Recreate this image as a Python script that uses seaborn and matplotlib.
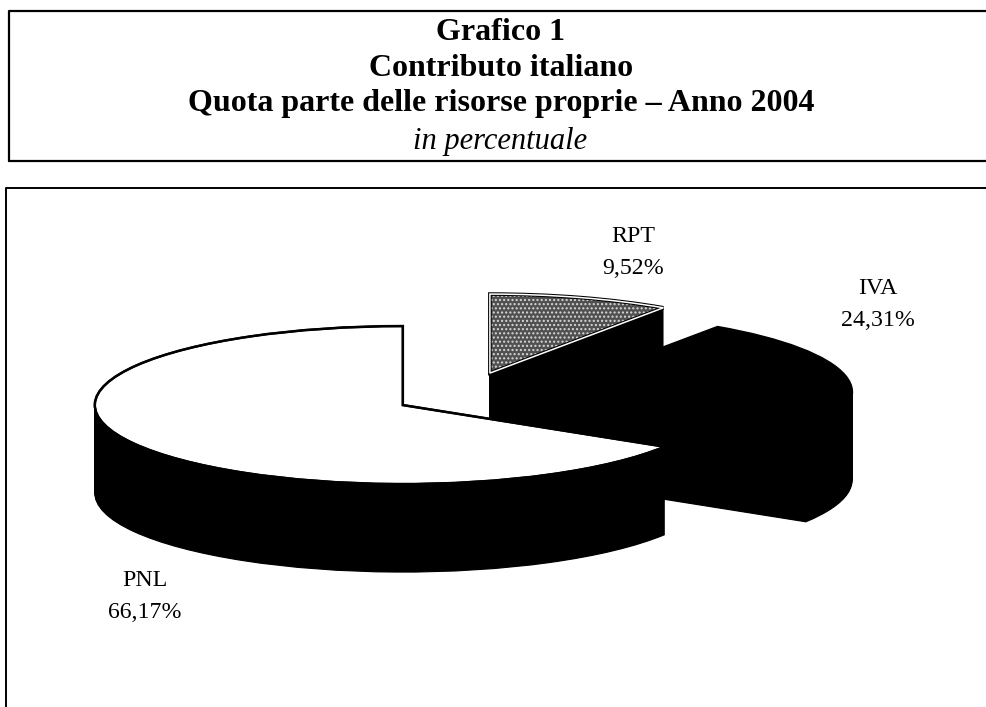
import matplotlib
matplotlib.use("Agg")
import matplotlib.pyplot as plt
from matplotlib.patches import Rectangle
import seaborn as sns

labels = ["PNL", "IVA", "RPT"]
values = [66.17, 24.31, 9.52]
value_labels = ["66,17%", "24,31%", "9,52%"]
title_lines = ["Grafico 1", "Contributo italiano", "Quota parte delle risorse proprie – Anno 2004"]
subtitle = "in percentuale"

sns.set_style("white")
plt.rcParams["font.family"] = ["Liberation Serif", "DejaVu Serif"]
plt.rcParams["text.color"] = "black"
plt.rcParams["hatch.linewidth"] = 1.0

W, H = 987, 707
RX, RY = 308, 79      # pie radius on screen (squashed ellipse)
CX, CY = 461.5, 396.7 # pie centre before exploding
DEPTH = 88
explode = [0.218, 0.274, 0.313]
order = [3, 2, 1]     # PNL sits in front, then IVA, then RPT

fig = plt.figure(figsize=(W / 100, H / 100), dpi=100)
ax = fig.add_axes([0, 0, 1, 1])


def draw_pie(shift_px, **kw):
    # one full pie, pushed down by shift_px pixels
    wedges, _ = ax.pie(values, explode=explode, startangle=90, counterclock=True,
                       center=(0, -shift_px / RY), radius=1, **kw)
    return wedges


# side wall: black copies of the pie stacked downwards
for d in range(DEPTH, 0, -1):
    w = draw_pie(d, colors=["black"] * 3, wedgeprops={"linewidth": 0.8, "edgecolor": "black"})
    for wedge, z in zip(w, order):
        wedge.set_zorder(z + (DEPTH - d) / (DEPTH * 2))

# top faces
top = draw_pie(0, colors=["white", "black", "#505050"],
               wedgeprops={"linewidth": 1.6, "edgecolor": "black"})
for wedge, z in zip(top, order):
    wedge.set_zorder(z + 0.6)
top[2].set_hatch("....")
top[2].set_edgecolor("#d8d8d8")
top[2].set_linewidth(0)

# PNL outline and the RPT rim
outline = draw_pie(0, colors=["none"] * 3, wedgeprops={"linewidth": 1.8, "edgecolor": "black", "fill": False})
for wedge, z in zip(outline, order):
    wedge.set_zorder(z + 0.7)
outline[1].set_visible(False)
outline[2].set_linewidth(2.6)
rim = draw_pie(0, colors=["none"] * 3, wedgeprops={"linewidth": 1.1, "edgecolor": "white", "fill": False})
rim[0].set_visible(False)
rim[1].set_visible(False)
rim[2].set_zorder(1.8)

ax.set_aspect("auto")
ax.set_xlim(-CX / RX, (W - CX) / RX)
ax.set_ylim(-(H - CY) / RY, CY / RY)
ax.set_frame_on(False)
ax.set_xticks([])
ax.set_yticks([])

# keep the white rim off the left edge of the RPT face
rim[2].set_clip_path(Rectangle((493, 0), W, H, transform=None))


def px(x, y):
    return x / W, 1 - y / H


# frames: no right or bottom border, the scan cuts them off
frame_kw = dict(transform=fig.transFigure, color="black")
fig.add_artist(plt.Line2D([9 / W, 9 / W, 1, ], [1 - 161 / H, 1 - 11 / H, 1 - 11 / H], linewidth=1.6, **frame_kw))
fig.add_artist(plt.Line2D([9 / W, 1], [1 - 161 / H, 1 - 161 / H], linewidth=1.6, **frame_kw))
fig.add_artist(plt.Line2D([6 / W, 6 / W, 1], [0, 1 - 188 / H, 1 - 188 / H], linewidth=1.4, **frame_kw))

# heading
for line, y in zip(title_lines, [32, 68, 104]):
    fig.text(*px(501, y), line, ha="center", va="center", fontsize=23, fontweight="bold")
fig.text(*px(500, 142), subtitle, ha="center", va="center", fontsize=22, fontstyle="italic")

# slice labels
label_pos = {"PNL": (145, 580), "IVA": (878, 288), "RPT": (633, 237)}
for name, val in zip(labels, value_labels):
    x, y = label_pos[name]
    fig.text(*px(x, y), name, ha="center", va="center", fontsize=17.2)
    fig.text(*px(x, y + 32), val, ha="center", va="center", fontsize=17.2)

fig.savefig("out.png", dpi=100)
